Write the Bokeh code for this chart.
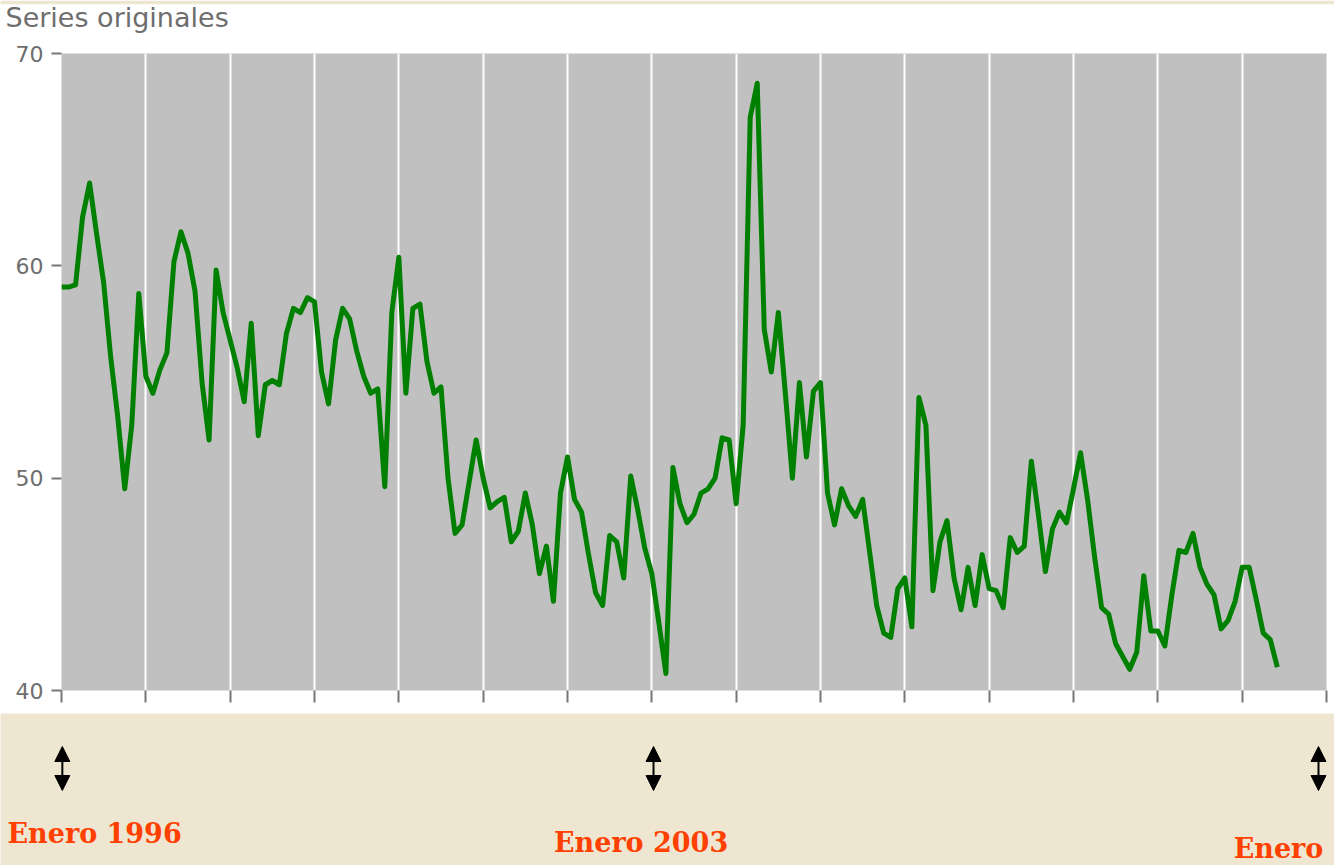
import numpy as np
from bokeh.plotting import figure
from bokeh.models import Range1d, FixedTicker, Label, Arrow, NormalHead
from bokeh.layouts import column
from bokeh.embed import file_html
from bokeh.resources import INLINE

# ---------------- data ----------------
start_year = 1996
values_1996 = [59.0, 59.0, 59.1, 62.3, 63.9, 61.5, 59.2, 55.7, 52.9, 49.5, 52.5, 58.7]
values_1997 = [54.8, 54.0, 55.1, 55.9, 60.2, 61.6, 60.6, 58.8, 54.5, 51.8, 59.8, 57.8]
values_1998 = [56.5, 55.2, 53.6, 57.3, 52.0, 54.4, 54.6, 54.4, 56.8, 58.0, 57.8, 58.5]
values_1999 = [58.3, 55.0, 53.5, 56.5, 58.0, 57.5, 56.0, 54.8, 54.0, 54.2, 49.6, 57.8]
values_2000 = [60.4, 54.0, 58.0, 58.2, 55.5, 54.0, 54.3, 50.0, 47.4, 47.8, 49.8, 51.8]
values_2001 = [50.0, 48.6, 48.9, 49.1, 47.0, 47.5, 49.3, 47.8, 45.5, 46.8, 44.2, 49.3]
values_2002 = [51.0, 49.0, 48.4, 46.4, 44.6, 44.0, 47.3, 47.0, 45.3, 50.1, 48.5, 46.7]
values_2003 = [45.5, 43.2, 40.8, 50.5, 48.8, 47.9, 48.3, 49.3, 49.5, 50.0, 51.9, 51.8]
values_2004 = [48.8, 52.5, 67.0, 68.6, 57.0, 55.0, 57.8, 54.0, 50.0, 54.5, 51.0, 54.1]
values_2005 = [54.5, 49.3, 47.8, 49.5, 48.7, 48.2, 49.0, 46.5, 44.0, 42.7, 42.5, 44.8]
values_2006 = [45.3, 43.0, 53.8, 52.5, 44.7, 47.0, 48.0, 45.3, 43.8, 45.8, 44.0, 46.4]
values_2007 = [44.8, 44.7, 43.9, 47.2, 46.5, 46.8, 50.8, 48.3, 45.6, 47.6, 48.4, 47.9]
values_2008 = [49.5, 51.2, 49.0, 46.3, 43.9, 43.6, 42.2, 41.6, 41.0, 41.8, 45.4, 42.8]
values_2009 = [42.8, 42.1, 44.5, 46.6, 46.5, 47.4, 45.8, 45.0, 44.5, 42.9, 43.3, 44.2]
values_2010 = [45.8, 45.8, 44.3, 42.7, 42.4, 41.1]

series_values = (values_1996 + values_1997 + values_1998 + values_1999 + values_2000
                 + values_2001 + values_2002 + values_2003 + values_2004 + values_2005
                 + values_2006 + values_2007 + values_2008 + values_2009 + values_2010)
month_x = start_year + np.arange(len(series_values)) / 12.0

year_ticks = list(range(1996, 2012))
y_ticks = [40, 50, 60, 70]
title_text = "Series originales"
marker_years = [1996, 2003, 2011]
marker_labels = ["Enero 1996", "Enero 2003", "Enero 2011"]

# ---------------- styles / layout ----------------
BEIGE = "#EEE6D0"
GREY_FRAME = "#C0C0C0"
TEXT_GREY = "#6E6E6E"
ORANGE = "#FF4000"

W = 1334
LEFT = 61
RIGHT = 8
TITLE_H = 41
MAIN_H = 672
BOT_H = 152
px_per_year = (W - LEFT - RIGHT) / (year_ticks[-1] - year_ticks[0])
full_x_start = year_ticks[0] - LEFT / px_per_year
full_x_end = year_ticks[-1] + RIGHT / px_per_year

# ---------------- title strip ----------------
t = figure(width=W, height=TITLE_H,
           x_range=Range1d(full_x_start, full_x_end), y_range=Range1d(0, TITLE_H - 4),
           output_backend="svg", toolbar_location=None,
           min_border_left=0, min_border_right=0, min_border_bottom=0, min_border_top=4,
           background_fill_color="white", border_fill_color=BEIGE,
           outline_line_color=None, frame_align=False)
t.axis.visible = False
t.grid.visible = False
t.add_layout(Label(x=year_ticks[0] - 56 / px_per_year, y=24, text=title_text,
                   text_font="DejaVu Sans", text_font_size="27px",
                   text_color=TEXT_GREY, text_baseline="alphabetic"))

# ---------------- main chart ----------------
p = figure(width=W, height=MAIN_H,
           x_range=Range1d(year_ticks[0], year_ticks[-1]),
           y_range=Range1d(y_ticks[0], y_ticks[-1]),
           output_backend="svg", toolbar_location=None,
           min_border_left=LEFT, min_border_right=RIGHT,
           min_border_top=12, min_border_bottom=23,
           background_fill_color=GREY_FRAME, border_fill_color="white",
           outline_line_color=None, frame_align=False)

p.line(month_x, series_values, line_color="#008000", line_width=5, line_join="round")

p.xaxis.ticker = FixedTicker(ticks=year_ticks)
p.xgrid.ticker = FixedTicker(ticks=year_ticks)
p.xgrid.grid_line_color = "white"
p.xgrid.grid_line_width = 2
p.ygrid.grid_line_color = None
p.xaxis.major_label_overrides = {t_: "" for t_ in year_ticks}
p.xaxis.major_tick_out = 12
p.xaxis.major_tick_in = 0
p.xaxis.minor_tick_line_color = None
p.xaxis.axis_line_color = None
p.xaxis.major_tick_line_color = "#777777"
p.xaxis.major_tick_line_width = 2

p.yaxis.ticker = FixedTicker(ticks=y_ticks)
p.yaxis.major_tick_out = 10
p.yaxis.major_tick_in = 0
p.yaxis.minor_tick_line_color = None
p.yaxis.axis_line_color = None
p.yaxis.major_tick_line_color = "#777777"
p.yaxis.major_tick_line_width = 2
p.yaxis.major_label_standoff = 8
p.yaxis.major_label_text_font = "DejaVu Sans"
p.yaxis.major_label_text_font_size = "22px"
p.yaxis.major_label_text_color = TEXT_GREY

# ---------------- bottom strip with markers ----------------
b = figure(width=W, height=BOT_H,
           x_range=Range1d(full_x_start, full_x_end), y_range=Range1d(0, BOT_H),
           output_backend="svg", toolbar_location=None,
           min_border=0, min_border_left=0, min_border_right=0,
           min_border_top=0, min_border_bottom=0,
           background_fill_color=BEIGE, border_fill_color=BEIGE,
           outline_line_color=None, frame_align=False)
b.axis.visible = False
b.grid.visible = False

arrow_x_shift = [0.01, 0.02, -0.095]
label_x_shift = [-0.64, -1.16, -1.10]
label_y = [32, 23, 17]
for yr, lab, ax, lx, ly in zip(marker_years, marker_labels, arrow_x_shift, label_x_shift, label_y):
    b.add_layout(Arrow(start=NormalHead(size=15, fill_color="black", line_color="black"),
                       end=NormalHead(size=15, fill_color="black", line_color="black"),
                       x_start=yr + ax, y_start=75, x_end=yr + ax, y_end=119,
                       line_color="black", line_width=2))
    b.add_layout(Label(x=yr + lx, y=ly, text=lab, text_font="DejaVu Serif",
                       text_font_style="bold", text_font_size="27px",
                       text_color=ORANGE, text_baseline="alphabetic"))

layout = column(t, p, b, spacing=0)
open("out.html", "w").write(file_html(layout, INLINE))
